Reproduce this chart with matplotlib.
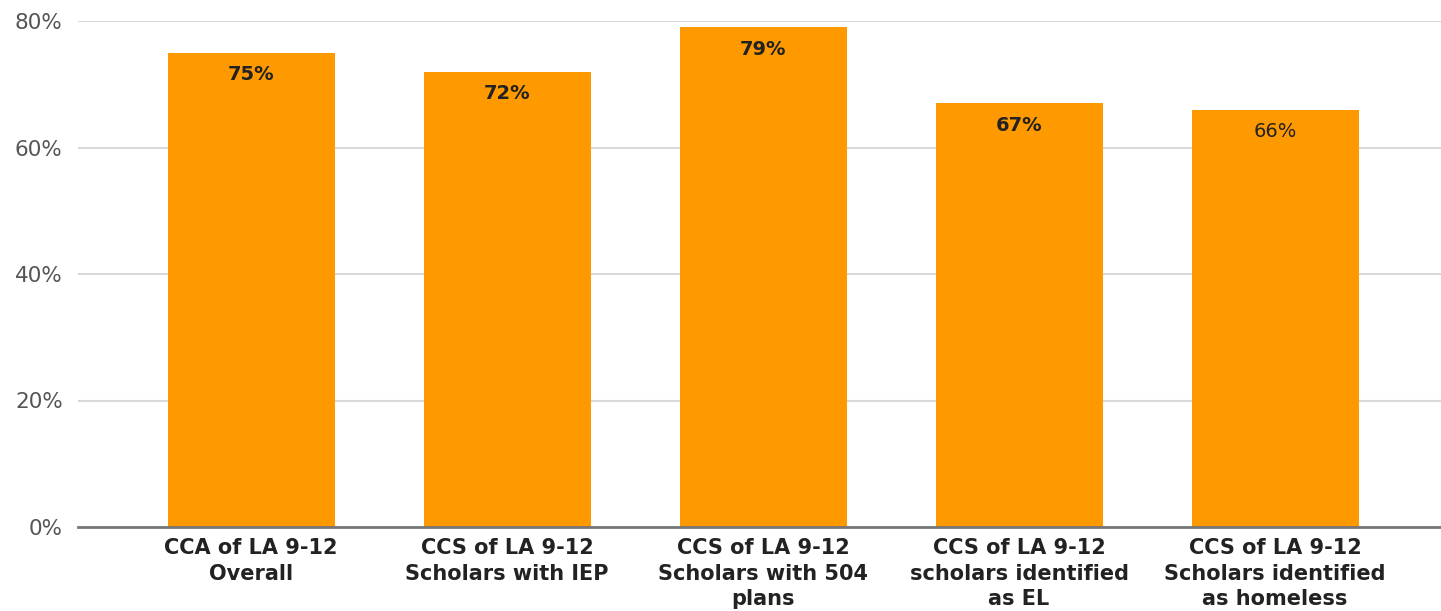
import numpy as np
import matplotlib.pyplot as plt

categories = ['CCA of LA 9-12\nOverall',
              'CCS of LA 9-12\nScholars with IEP',
              'CCS of LA 9-12\nScholars with 504\nplans',
              'CCS of LA 9-12\nscholars identified\nas EL',
              'CCS of LA 9-12\nScholars identified\nas homeless']
values = [75, 72, 79, 67, 66]
bold_labels = [True, True, True, True, False]
yticks = [0, 20, 40, 60, 80]

fig = plt.figure(figsize=(14.41, 6.11), dpi=100)
ax = fig.add_axes([78 / 1441, 84 / 611, 1 - 78 / 1441, (527 - 21) / 611])

x = np.arange(len(categories))
ax.bar(x, values, width=0.652, color='#ff9900', zorder=3)

for xi, v, b in zip(x, values, bold_labels):
    ax.annotate(f'{v}%', (xi, v), xytext=(0, -16), textcoords='offset points',
                ha='center', va='center', fontsize=14,
                fontweight='bold' if b else 'normal', color='#222222', zorder=4)

ax.set_xlim(-0.676, 4.648)
ax.set_ylim(0, 80)
ax.set_yticks(yticks)
ax.set_yticklabels([f'{t}%' for t in yticks], fontsize=15.5, color='#555555')
ax.set_xticks(x)
ax.set_xticklabels(categories, fontsize=15, fontweight='bold', color='#222222',
                   linespacing=1.35)
ax.tick_params(axis='both', length=0)
ax.tick_params(axis='y', pad=11)
ax.tick_params(axis='x', pad=8)

ax.grid(axis='y', color='#d9d9d9', linewidth=1.5, zorder=0)
for s in ['top', 'right', 'left']:
    ax.spines[s].set_visible(False)
ax.spines['bottom'].set_color('#777777')
ax.spines['bottom'].set_linewidth(2)
ax.spines['bottom'].set_zorder(5)

fig.savefig('out.png', dpi=100)
